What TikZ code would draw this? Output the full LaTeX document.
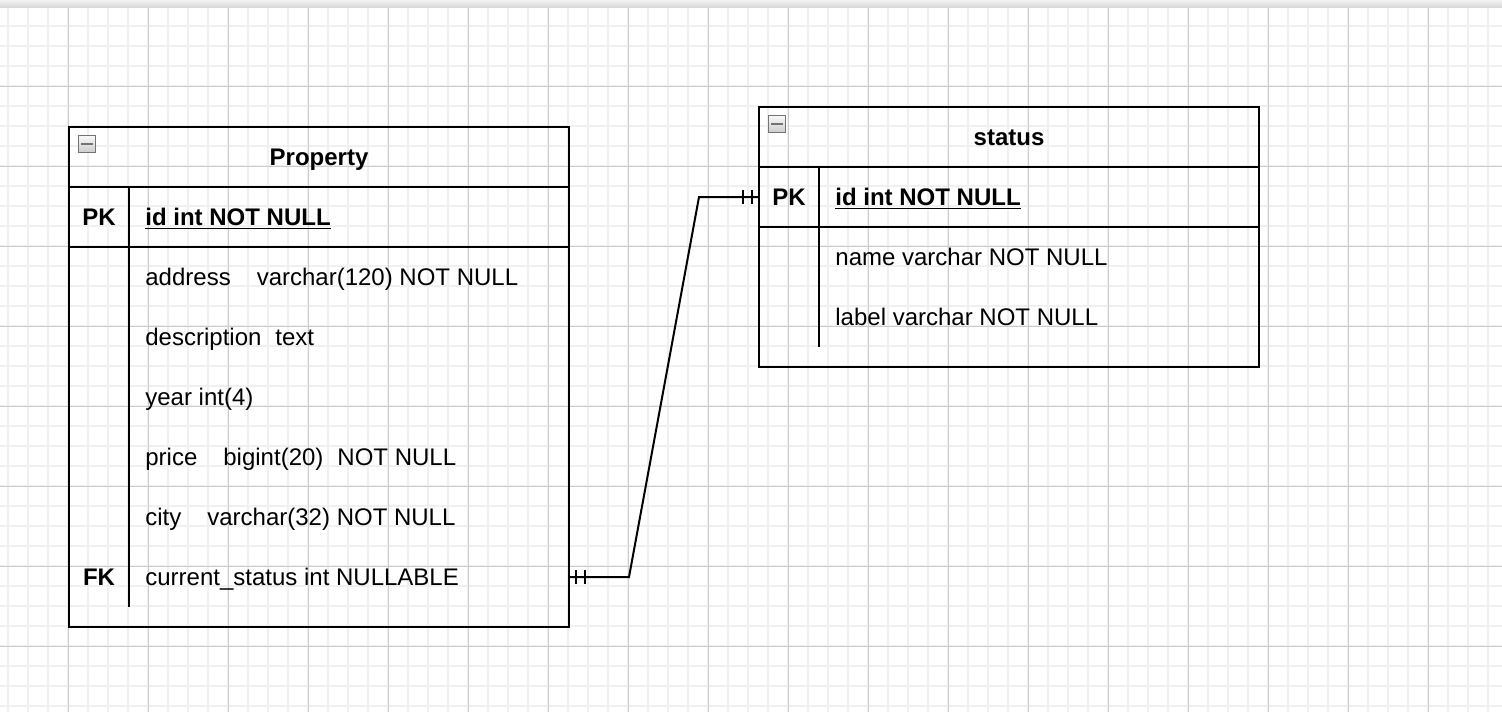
\documentclass[tikz,border=0pt]{standalone}
\usepackage{fontspec}
\setmainfont{Liberation Sans}
\usetikzlibrary{calc}
\tikzset{
tabella/.style={draw,line width=1.1pt,inner sep=0pt,outer sep=0pt},
titolo/.style={font=\fontsize{12}{14}\selectfont\bfseries,inner sep=0pt,text height=8.6pt,text depth=0pt},
chiave/.style={titolo},
campo/.style={anchor=west,inner sep=0pt,text height=8.6pt,text depth=0pt},
icona/.style={draw=black!55,line width=0.6pt,minimum size=8.5pt,inner sep=0pt,
  top color=gray!5,bottom color=gray!40,
  path picture={\draw[line width=1pt] ([xshift=-2.8pt]path picture bounding box.center) -- ([xshift=2.8pt]path picture bounding box.center);}},
linea/.style={line width=1.1pt},
relazione/.style={line width=1pt},
griglia fine/.style={draw=black!6,line width=1pt},
griglia/.style={draw=black!20,line width=0.5pt}}

\begin{document}
\begin{tikzpicture}[x=0.5pt,y=-0.5pt,font=\fontsize{12}{14}\selectfont]

\useasboundingbox (0,0) rectangle (1502,712);
\shade[top color=gray!10,bottom color=gray!30] (0,0) rectangle (1502,7);
\begin{scope}[shift={(-12,6)}]
\draw[griglia fine,step=10pt] (12,706) grid (1514,2);
\draw[griglia,step=40pt] (12,706) grid (1514,2);
\end{scope}

% tabella Property
\node[tabella,minimum width=250pt,minimum height=250pt] (prop) at (319,377) {};
\node[icona] (prop-i) at (87,144) {};
\node[titolo] (prop-t) at (319,157) {Property};
\node[chiave] (prop-pk) at (99,217) {PK};
\node[campo] (prop-id) at (145,217) {\underline{\textbf{id int NOT NULL}}};
\node[campo] (prop-f1) at (145,277) {address\hspace{13pt}varchar(120) NOT NULL};
\node[campo] (prop-f2) at (145,337) {description\hspace{7pt}text};
\node[campo] (prop-f3) at (145,397) {year int(4)};
\node[campo] (prop-f4) at (145,457) {price\hspace{13pt}bigint(20)\hspace{7pt}NOT NULL};
\node[campo] (prop-f5) at (145,517) {city\hspace{13pt}varchar(32) NOT NULL};
\node[chiave] (prop-fk) at (99,577) {FK};
\node[campo] (prop-f6) at (145,577) {current\_status int NULLABLE};

\draw[linea] ([yshift=-30pt]prop.north west) -- ([yshift=-30pt]prop.north east);
\draw[linea] ([yshift=-60pt]prop.north west) -- ([yshift=-60pt]prop.north east);
\draw[linea] ([xshift=30pt,yshift=-30pt]prop.north west) -- ([xshift=30pt,yshift=10pt]prop.south west);

% tabella status
\node[tabella,minimum width=250pt,minimum height=130pt] (stat) at (1009,237) {};
\node[icona] (stat-i) at (777,124) {};
\node[titolo] (stat-t) at (1009,137) {status};
\node[chiave] (stat-pk) at (789,197) {PK};
\node[campo] (stat-id) at (835,197) {\underline{\textbf{id int NOT NULL}}};
\node[campo] (stat-f1) at (835,257) {name varchar NOT NULL};
\node[campo] (stat-f2) at (835,317) {label varchar NOT NULL};

\draw[linea] ([yshift=-30pt]stat.north west) -- ([yshift=-30pt]stat.north east);
\draw[linea] ([yshift=-60pt]stat.north west) -- ([yshift=-60pt]stat.north east);
\draw[linea] ([xshift=30pt,yshift=-30pt]stat.north west) -- ([xshift=30pt,yshift=10pt]stat.south west);

% relazione
\coordinate (a) at (prop-f6 -| prop.east);
\coordinate (b) at (stat-pk -| stat.west);
\draw[relazione] (a) -- ++(60,0) -- ([xshift=-30pt]b) -- (b);
\draw[relazione] ([xshift=3.5pt]a) ++(0,-7) -- ++(0,14);
\draw[relazione] ([xshift=8pt]a) ++(0,-7) -- ++(0,14);
\draw[relazione] ([xshift=-3.5pt]b) ++(0,-7) -- ++(0,14);
\draw[relazione] ([xshift=-8pt]b) ++(0,-7) -- ++(0,14);

\end{tikzpicture}
\end{document}
